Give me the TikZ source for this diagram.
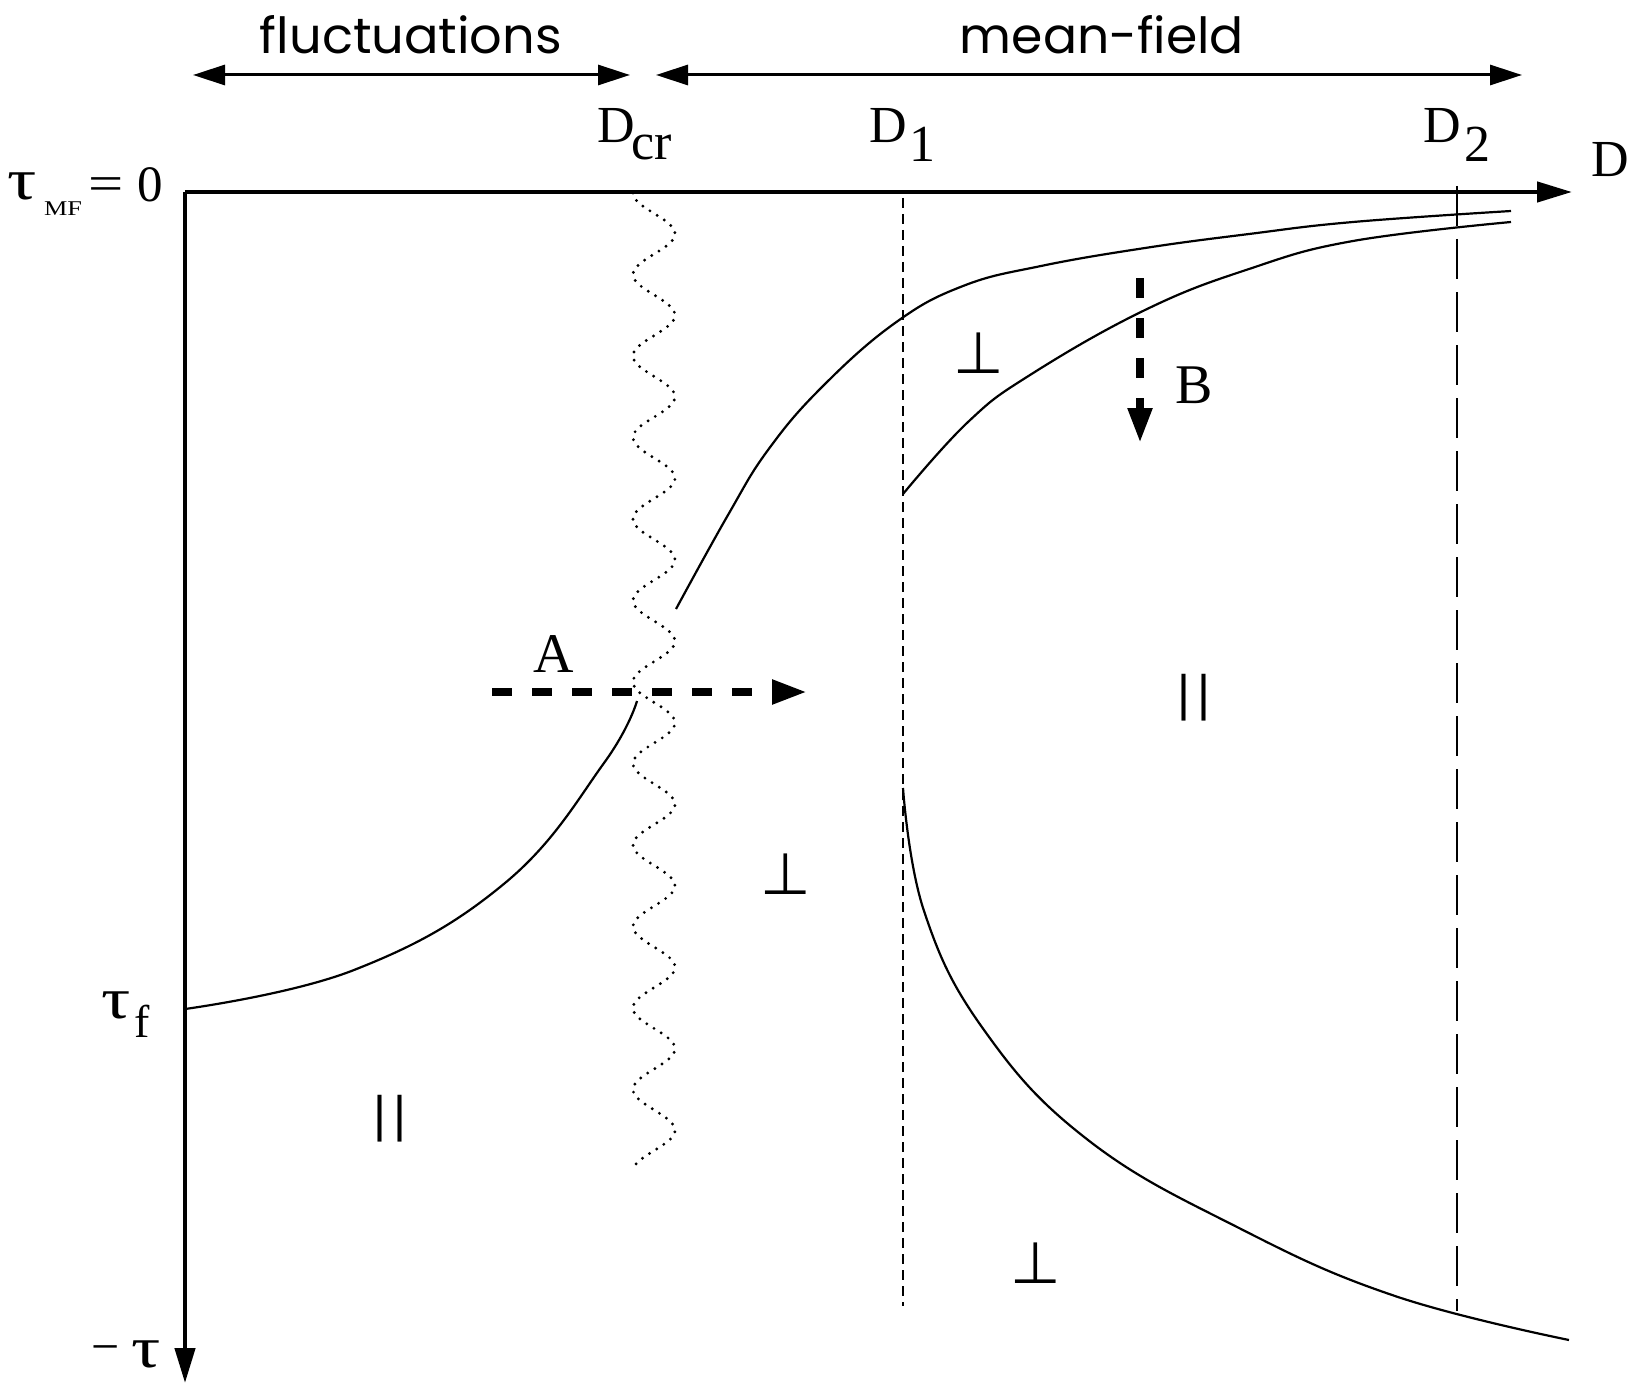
\documentclass[tikz,border=0pt]{standalone}
\usepackage{graphicx}
\usepackage{fontspec}
\setmainfont{Liberation Serif}
\newfontfamily\labsans{Poppins}
\newfontfamily\symfont{DejaVu Sans}
\newfontfamily\barfont{Liberation Sans}
\usetikzlibrary{arrows.meta}
\newcommand\serifL{\fontsize{52}{56}\selectfont}
\newcommand\serifAB{\fontsize{56}{60}\selectfont}
\newcommand\bigtau{\scalebox{1.4}[1.12]{τ}}
\begin{document}
\begin{tikzpicture}[x=1pt,y=-1pt,
  axisline/.style={line width=4.5pt,-{Triangle[length=35pt,width=20pt]}},
  curve/.style={line width=2.2pt,line join=round},
  rangearrow/.style={line width=3pt,{Triangle[length=32pt,width=20pt]}-{Triangle[length=32pt,width=20pt]}},
  thickdash/.style={line width=8pt,dash pattern=on 20pt off 20pt,-{Triangle[length=35pt,width=23pt]}},
  shortdash/.style={line width=1.5pt,dash pattern=on 10pt off 6pt},
  longdash/.style={line width=1.3pt,dash pattern=on 40pt off 13pt},
  wave/.style={line width=3.2pt,line cap=round,dash pattern=on 0pt off 8.5pt},
  txt/.style={inner sep=0pt,outer sep=0pt},
  lab/.style={txt,anchor=base west,font=\serifL},
  perpsym/.style={txt,font=\symfont\fontsize{58}{60}\selectfont},
  barsym/.style={txt,font=\barfont\fontsize{50}{56}\selectfont},
  toplabel/.style={txt,anchor=base},
]
\useasboundingbox (0,0) rectangle (1632,1388);

% axes
\coordinate (O) at (185,192);
\coordinate (Xtip) at (1572,192);
\coordinate (Ytip) at (185,1383);
\draw[axisline] (O) -- (Xtip);
\draw[axisline] (O) -- (Ytip);

% top range arrows
\coordinate (fl1) at (193,75);
\coordinate (fl2) at (630,75);
\coordinate (mf1) at (656,75);
\coordinate (mf2) at (1522,75);
\draw[rangearrow] (fl1) -- (fl2);
\draw[rangearrow] (mf1) -- (mf2);
\node[toplabel] (tfl) at (411,54) {\resizebox{302pt}{38pt}{\labsans fluctuations}};
\node[toplabel] (tmf) at (1102,54) {\resizebox{284pt}{38pt}{\labsans mean-field}};

% axis labels
\node[lab] (Dcr) at (597,143) {D};
\node[lab] (Dcrs) at (631,160) {cr};
\node[lab] (D1) at (869,143) {D};
\node[lab] (D1s) at (909,162) {1};
\node[lab] (D2) at (1423,143) {D};
\node[lab] (D2s) at (1464,162) {2};
\node[lab] (Dax) at (1591,177) {D};
\node[lab] (taumf) at (8,200) {\bigtau};
\node[txt,anchor=base west,font=\fontsize{21}{22}\selectfont] (mfsub) at (44,216) {\scalebox{1.25}[1]{MF}};
\node[txt,font=\fontsize{50}{52}\selectfont] (eq) at (106,189) {\scalebox{1.25}[1]{=}};
\node[lab,font=\fontsize{51}{54}\selectfont] (zero) at (137,202) {0};
\node[lab] (tauf) at (101,1018) {\bigtau};
\node[lab,font=\fontsize{46}{52}\selectfont] (fsub) at (134,1037) {f};
\node[txt,font=\fontsize{50}{52}\selectfont] (minus) at (106,1355) {−};
\node[lab] (mtau) at (131,1367) {\bigtau};

% vertical reference lines
\coordinate (d1a) at (903,198);
\coordinate (d1b) at (903,1306);
\coordinate (d2a) at (1457,186);
\coordinate (d2b) at (1457,1311);
\draw[shortdash] (d1a) -- (d1b);
\draw[longdash] (d2a) -- (d2b);

% crossover wavy line at D_cr
\draw[wave] plot[domain=0:978,samples=400] ({654-21*cos(4.41718*\x)},{193+\x});

% phase boundaries
\draw[curve] plot[smooth,tension=0.7] coordinates {(185,1009) (354,970) (505,883) (604,763) (637,701)};
\draw[curve] plot[smooth,tension=0.7] coordinates {(676,609) (728,515) (768,450) (822,387) (895,323) (963,286) (1041,266) (1145,248) (1249,234) (1353,222) (1511,211)};
\draw[curve] plot[smooth,tension=0.7] coordinates {(903,494) (968,422) (1030,375) (1145,310) (1249,269) (1353,241) (1511,222)};
\draw[curve] plot[smooth,tension=0.7] coordinates {(903,788) (924,911) (984,1030) (1088,1140) (1239,1228) (1395,1296) (1569,1340)};

% phase labels
\node[perpsym] (p1) at (979,353) {⊥};
\node[perpsym] (p2) at (786,874) {⊥};
\node[perpsym] (p3) at (1036,1263) {⊥};
\node[barsym] (b1) at (1194,698) {|\kern7pt|};
\node[barsym] (b2) at (390,1119) {|\kern7pt|};

% paths A and B
\coordinate (A1) at (492,692);
\coordinate (A2) at (807,692);
\coordinate (B1) at (1140,278);
\coordinate (B2) at (1140,443);
\draw[thickdash] (A1) -- (A2);
\draw[thickdash] (B1) -- (B2);
\node[txt,font=\serifAB] (lA) at (554,654) {A};
\node[txt,font=\serifAB] (lB) at (1194,385) {B};
\end{tikzpicture}
\end{document}
